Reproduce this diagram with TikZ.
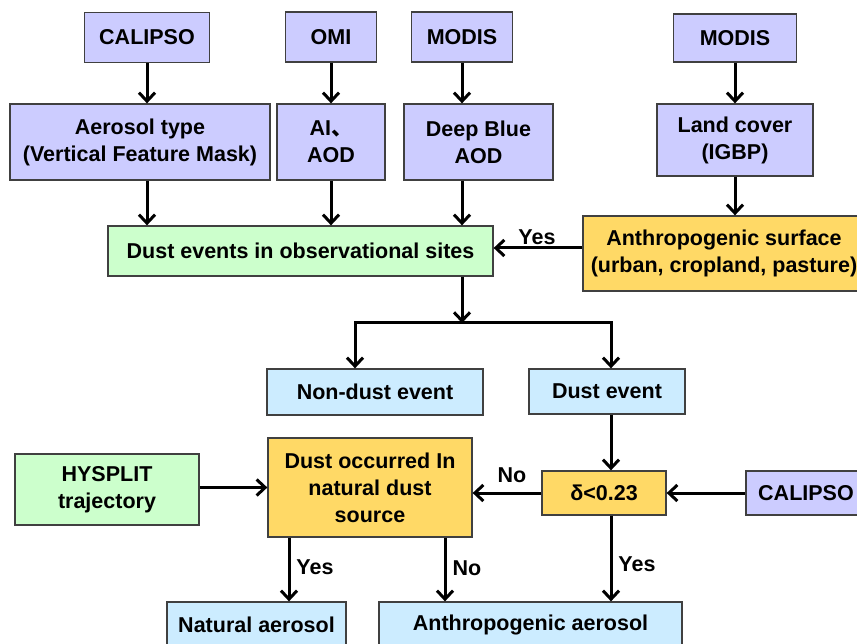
\documentclass[tikz,border=0pt]{standalone}
\usepackage{fontspec}
\setmainfont{Liberation Sans}
\newfontfamily\cjk{Noto Sans CJK SC}
\usetikzlibrary{arrows.meta}
\definecolor{lavc}{HTML}{CCCCFF}
\definecolor{grnc}{HTML}{CCFFCC}
\definecolor{bluc}{HTML}{CCECFF}
\definecolor{yelc}{HTML}{FFD966}
\definecolor{edgec}{HTML}{404040}
\begin{document}
\begin{tikzpicture}[x=1pt,y=-1pt,
  txt/.style={font=\fontsize{21.5}{27}\selectfont\bfseries},
  box/.style={txt, draw=edgec, line width=1.3pt, inner sep=0pt, align=center},
  wh/.style 2 args={minimum width=#1pt, minimum height=#2pt},
  lav/.style={box, fill=lavc},
  grn/.style={box, fill=grnc},
  blu/.style={box, fill=bluc},
  yel/.style={box, fill=yelc},
  tipc/.tip={Straight Barb[length=8.5pt,width=16pt]},
  arr/.style={line width=3pt, -tipc},
  lbl/.style={txt, inner sep=0pt}]
\useasboundingbox (0,0) rectangle (857,644);
\clip (0,0) rectangle (857,644);
\fill[white] (0,0) rectangle (857,644);

% top row
\node[lav, wh={125}{50}] (cal) at (147,37.5) {CALIPSO};
\node[lav, wh={91}{50}] (omi) at (331,37) {OMI};
\node[lav, wh={101}{50}] (mod1) at (462,37) {MODIS};
\node[lav, wh={123}{48}] (mod2) at (735,38) {MODIS};

% second row
\node[lav, wh={260}{76}] (aer) at (140,142) {Aerosol type\\(Vertical Feature Mask)};
\node[lav, wh={108}{76}] (ai) at (331,142) {AI{\cjk 、}\\AOD};
\node[lav, wh={149}{76}] (db) at (478.5,142) {Deep Blue\\AOD};
\node[lav, wh={156}{72}] (lc) at (735,140) {Land cover\\(IGBP)};

% third row
\node[grn, wh={385}{50}] (de) at (300.5,251) {Dust events in observational sites};
\node[yel, wh={282}{75}] (as) at (724,253.5) {Anthropogenic surface\\(urban, cropland, pasture)};

% events
\node[blu, wh={216}{46}] (nd) at (375,392) {Non-dust event};
\node[blu, wh={156}{45}] (dev) at (607,391.5) {Dust event};

% decision row
\node[grn, wh={184}{71}] (hy) at (107,489.5) {HYSPLIT\\trajectory};
\node[yel, wh={204}{99}] (occ) at (370,487.5) {Dust occurred In\\natural dust\\source};
\node[yel, wh={124}{44}] (dl) at (604,493) {δ<0.23};
\node[lav, wh={120}{44}] (cal2) at (806,493) {CALIPSO};

% results
\node[blu, wh={179}{46}] (nat) at (256.5,625) {Natural aerosol};
\node[blu, wh={303}{46}] (aa) at (530.5,625) {Anthropogenic aerosol};

% arrows top
\draw[arr] (cal.south) -- (cal.south |- aer.north);
\draw[arr] (omi.south) -- (omi.south |- ai.north);
\draw[arr] (mod1.south) -- (mod1.south |- db.north);
\draw[arr] (mod2.south) -- (mod2.south |- lc.north);
\draw[arr] (aer.south -| cal.south) -- (cal.south |- de.north);
\draw[arr] (ai.south) -- (ai.south |- de.north);
\draw[arr] (db.south -| mod1.south) -- (mod1.south |- de.north);
\draw[arr] (lc.south) -- (lc.south |- as.north);
\draw[arr] ([yshift=5.5pt]as.west) -- ([yshift=5.5pt]as.west -| de.east);
\node[lbl] (yes1) at (537,237) {Yes};

% split
\coordinate (j) at (462,323);
\coordinate (jl) at (355,323);
\coordinate (jr) at (611,323);
\draw[arr] (de.south -| j) -- (j);
\draw[line width=3pt, tipc-tipc]
  (jl |- nd.north) -- (jl) -- (jr) -- (jr |- dev.north);

% decision arrows
\draw[arr] (dev.south -| jr) -- (jr |- dl.north);
\draw[arr] (cal2.west) -- (dl.east);
\draw[arr] (dl.west) -- (dl.west -| occ.east);
\node[lbl] (no1) at (512,475) {No};
\draw[arr] (hy.east |- occ.west) -- (occ.west);
\draw[arr] ([xshift=-81pt]occ.south) -- ([xshift=-81pt]occ.south |- nat.north);
\node[lbl] (yes2) at (315,567) {Yes};
\draw[arr] ([xshift=75pt]occ.south) -- ([xshift=75pt]occ.south |- aa.north);
\node[lbl] (no2) at (467,568) {No};
\draw[arr] (dl.south -| jr) -- (jr |- aa.north);
\node[lbl] (yes3) at (637,564) {Yes};
\end{tikzpicture}
\end{document}
